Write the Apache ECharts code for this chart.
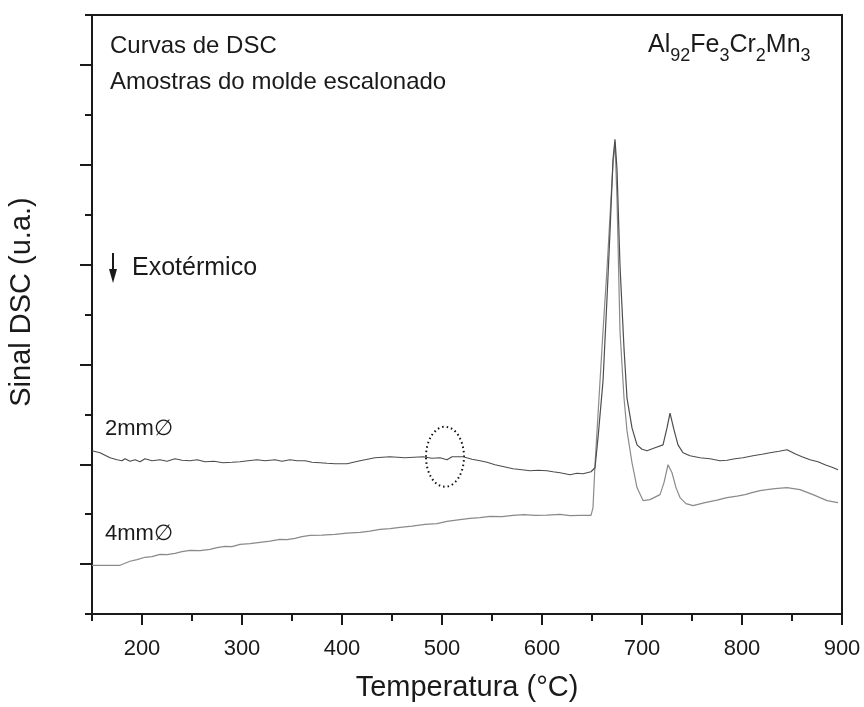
<!DOCTYPE html>
<html>
<head>
<meta charset="utf-8">
<script src="https://cdn.jsdelivr.net/npm/echarts@6/dist/echarts.min.js"></script>
<style>
  html, body { margin: 0; padding: 0; background: #fff; }
  #chart { width: 864px; height: 707px; }
</style>
</head>
<body>
<div id="chart"></div>
<script>
// DSC curves, temperature (°C) and signal (arbitrary units)
var temp2 = [150, 158, 164, 168, 175, 180, 183, 188, 193, 198, 203, 210, 218, 225, 233, 240, 248, 255, 263, 272,
    281, 290, 298, 306, 315, 323, 333, 340, 348, 355, 363, 370, 378, 385, 393, 405,
    418, 433, 448, 463, 472, 481, 490, 498, 505, 510, 521, 530, 538, 545, 553, 562, 571, 580, 588, 596,
    605, 611, 618, 623, 628, 635, 641, 649, 653, 656,
    661, 665, 668, 671, 673, 675, 678, 682, 685, 690, 695, 700, 705, 713, 721, 725, 728, 732, 736, 741, 748,
    758, 768, 778, 785, 793, 801, 811, 820, 828, 837, 845, 853, 860, 868, 876, 883, 890, 896];
var sig2 = [1.635, 1.615, 1.585, 1.565, 1.545, 1.535, 1.555, 1.53, 1.545, 1.525, 1.555, 1.535, 1.545, 1.53, 1.555, 1.54, 1.535, 1.545, 1.525, 1.53,
    1.515, 1.52, 1.525, 1.535, 1.545, 1.535, 1.545, 1.53, 1.545, 1.535, 1.535, 1.52, 1.515, 1.51, 1.505, 1.505,
    1.535, 1.565, 1.575, 1.565, 1.57, 1.575, 1.56, 1.565, 1.545, 1.575, 1.575, 1.55, 1.535, 1.52, 1.495, 1.475, 1.455, 1.445, 1.435, 1.44,
    1.435, 1.425, 1.415, 1.405, 1.395, 1.41, 1.405, 1.425, 1.465, 1.764,
    2.332, 3.16, 3.827, 4.555, 4.754, 4.455, 3.488, 2.661, 2.163, 1.864, 1.694, 1.65, 1.635, 1.665, 1.694, 1.864, 2.013, 1.844, 1.694, 1.615, 1.585,
    1.565, 1.555, 1.535, 1.54, 1.555, 1.565, 1.585, 1.6, 1.615, 1.63, 1.645, 1.605, 1.575, 1.545, 1.525, 1.495, 1.47, 1.445];

var temp4 = [150, 178, 188, 195, 203, 210, 218, 225, 233, 240, 248, 258, 268, 275, 283, 290, 298, 308, 318, 328, 338, 345, 353, 360, 368, 380, 393, 405, 418, 428, 438, 448, 458, 470, 483, 495, 505,
    518, 528, 538, 548, 560, 571, 582, 593, 605, 618, 628, 638, 649, 651, 653, 657, 661, 665, 668, 671, 673, 675, 678, 682, 685, 690,
    695, 701, 708, 718, 722, 726, 730, 734, 738, 744, 751, 763, 775, 785, 795, 803, 810, 818, 825, 833, 845, 858, 871, 885, 896];
var sig4 = [0.488, 0.488, 0.528, 0.545, 0.568, 0.575, 0.598, 0.595, 0.608, 0.625, 0.638, 0.635, 0.648, 0.665, 0.678, 0.675, 0.698, 0.705, 0.718, 0.73, 0.748, 0.745, 0.758, 0.775, 0.787, 0.79, 0.797, 0.81, 0.817, 0.83, 0.847, 0.855, 0.867, 0.88, 0.897, 0.905, 0.927,
    0.945, 0.957, 0.965, 0.977, 0.975, 0.987, 0.995, 0.987, 0.99, 0.997, 0.985, 0.987, 0.987, 1.066, 1.495, 2.163, 2.831, 3.459, 3.987, 4.505, 4.724, 4.156, 2.831, 2.163, 1.834, 1.515,
    1.266, 1.136, 1.146, 1.196, 1.316, 1.495, 1.415, 1.266, 1.166, 1.106, 1.086, 1.116, 1.14, 1.166, 1.18, 1.196, 1.215, 1.236, 1.245, 1.256, 1.266, 1.246, 1.196, 1.136, 1.116];

var xMajor = [200, 300, 400, 500, 600, 700, 800, 900];
var xMinor = [150, 250, 350, 450, 550, 650, 750, 850];
var yMajor = [0.5, 1.5, 2.5, 3.5, 4.5, 5.5];
var yMinor = [0, 1, 2, 3, 4, 5, 6];

function pairs(t, s) {
    return t.map(function (v, i) { return [v, s[i]]; });
}

var ink = '#1a1a1a';
var font = 'Liberation Sans, Arial, sans-serif';

var chart = echarts.init(document.getElementById('chart'));
chart.setOption({
    animation: false,
    backgroundColor: '#fff',
    grid: {
        left: 92, right: 22, top: 15, bottom: 90,
        show: true, borderColor: ink, borderWidth: 2, backgroundColor: 'transparent'
    },
    xAxis: [{
        type: 'value', min: 150, max: 900, position: 'bottom',
        name: 'Temperatura (°C)', nameLocation: 'middle', nameGap: 59,
        nameTextStyle: { fontSize: 29, color: ink, fontFamily: font },
        axisLine: { lineStyle: { color: ink, width: 2 } },
        axisTick: { customValues: xMajor, length: 11, lineStyle: { color: ink, width: 2 } },
        axisLabel: { customValues: xMajor, fontSize: 22, color: ink, fontFamily: font, margin: 24 },
        splitLine: { show: false }
    }, {
        type: 'value', min: 150, max: 900, position: 'bottom',
        axisLine: { show: false },
        axisTick: { customValues: xMinor, length: 7, lineStyle: { color: ink, width: 2 } },
        axisLabel: { show: false },
        splitLine: { show: false }
    }],
    yAxis: [{
        type: 'value', min: 0, max: 6, position: 'left',
        axisLine: { show: true, lineStyle: { color: ink, width: 2 } },
        axisTick: { customValues: yMajor, length: 12, lineStyle: { color: ink, width: 2 } },
        axisLabel: { show: false },
        splitLine: { show: false }
    }, {
        type: 'value', min: 0, max: 6, position: 'left',
        axisLine: { show: false },
        axisTick: { show: true, customValues: yMinor, length: 7, lineStyle: { color: ink, width: 2 } },
        axisLabel: { show: false },
        splitLine: { show: false }
    }],
    series: [{
        name: '4mm',
        type: 'line',
        data: pairs(temp4, sig4),
        showSymbol: false,
        lineStyle: { color: '#8a8a8a', width: 1.2 }
    }, {
        name: '2mm',
        type: 'line',
        data: pairs(temp2, sig2),
        showSymbol: false,
        lineStyle: { color: '#4d4d4d', width: 1.2 }
    }]
});

// annotations
var c = chart.convertToPixel({ xAxisIndex: 0, yAxisIndex: 0 }, [503, 1.575]);
chart.setOption({
    graphic: [
        {
            type: 'text', x: 22, y: 302, rotation: Math.PI / 2,
            style: { text: 'Sinal DSC (u.a.)', font: '29px ' + font, fill: ink, align: 'center', verticalAlign: 'middle' }
        },
        { type: 'text', left: 110, top: 34, style: { text: 'Curvas de DSC', font: '24px ' + font, fill: ink } },
        { type: 'text', left: 110, top: 70, style: { text: 'Amostras do molde escalonado', font: '24px ' + font, fill: ink } },
        {
            type: 'text', left: 648, top: 33,
            style: {
                text: 'Al{s|92}Fe{s|3}Cr{s|2}Mn{s|3}',
                font: '25px ' + font, fill: ink,
                rich: {
                    s: { fontSize: 18, fontFamily: font, fill: ink, padding: [22, 0, 0, 0] }
                }
            }
        },
        { type: 'line', shape: { x1: 113, y1: 253, x2: 113, y2: 272 }, style: { stroke: ink, lineWidth: 2 } },
        { type: 'polygon', shape: { points: [[109, 269], [117, 269], [113, 283]] }, style: { fill: ink } },
        { type: 'text', left: 132, top: 256, style: { text: 'Exotérmico', font: '25px ' + font, fill: ink } },
        { type: 'text', left: 105, top: 418, style: { text: '2mm\u2205', font: '22px ' + font, fill: ink } },
        { type: 'text', left: 105, top: 523, style: { text: '4mm\u2205', font: '22px ' + font, fill: ink } },
        {
            type: 'ellipse', shape: { cx: c[0], cy: c[1], rx: 19, ry: 30 },
            style: { fill: 'none', stroke: '#111', lineWidth: 2, lineDash: [1.5, 3] }
        }
    ]
});
</script>
</body>
</html>
